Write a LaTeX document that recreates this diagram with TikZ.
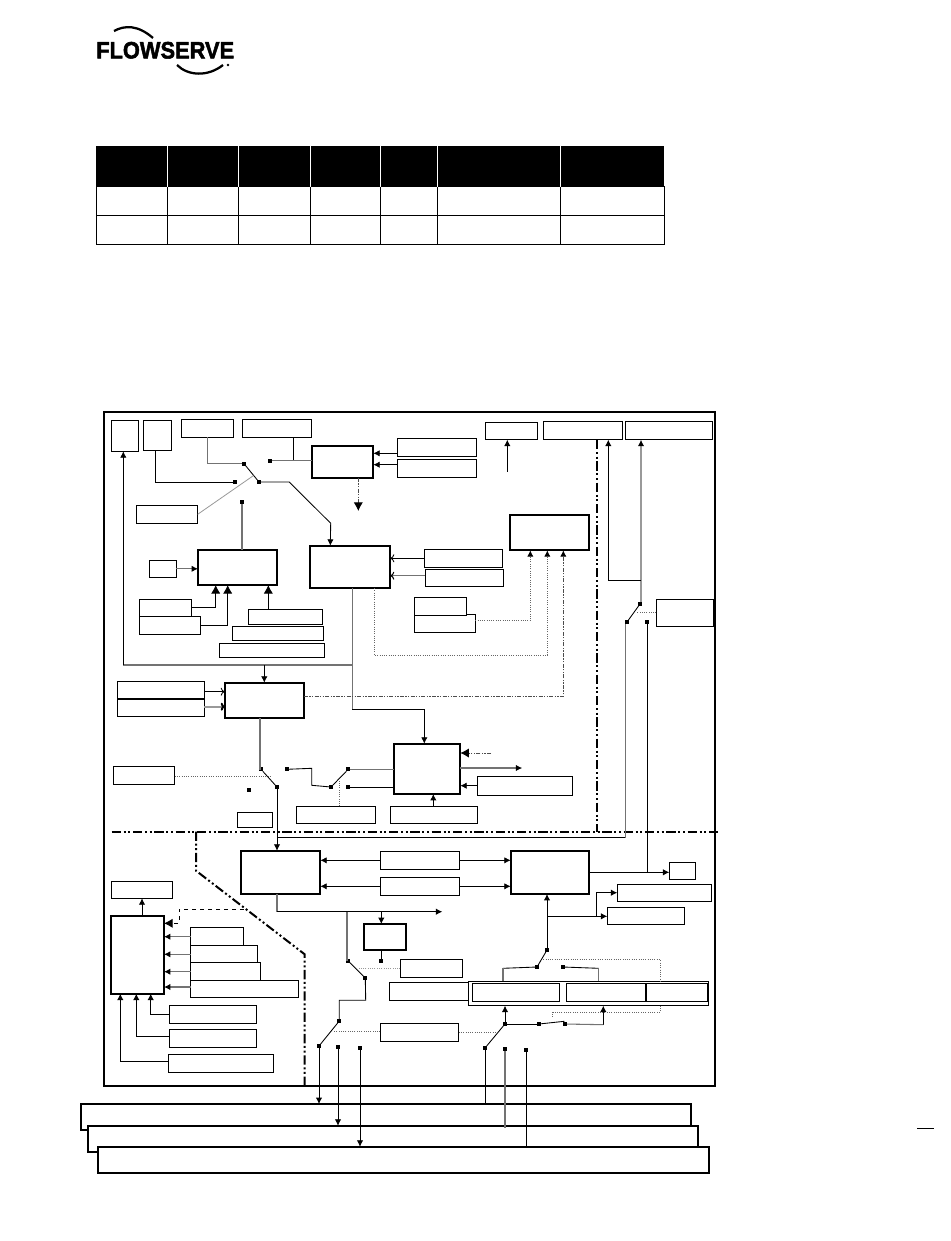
\documentclass[tikz,border=0pt]{standalone}
\usepackage{fontspec}
\usetikzlibrary{arrows.meta,calc}
\newfontfamily\logofont[BoldFeatures={FakeBold=2.2}]{Liberation Sans}
\definecolor{wgray}{gray}{0.45}
\definecolor{lgray}{gray}{0.6}
\tikzset{
  thinbox/.style={draw=black,line width=0.85pt,fill=white,inner sep=0pt,outer sep=0pt},
  medbox/.style={draw=black,line width=1.5pt,fill=white,inner sep=0pt,outer sep=0pt},
  thickbox/.style={draw=black,line width=1.7pt,fill=white,inner sep=0pt,outer sep=0pt},
  contact/.style={fill=black,inner sep=0pt,outer sep=0pt,minimum size=3pt,rectangle},
  wire/.style={draw=black,line width=0.65pt},
  gwire/.style={draw=wgray,line width=0.8pt},
  hwire/.style={draw=lgray,line width=1.5pt},
  dwire/.style={draw=black!60,line width=0.7pt,densely dotted},
  lwire/.style={draw=lgray,line width=0.6pt},
  ddwire/.style={draw=black!70,line width=0.7pt,dash pattern=on 3pt off 1pt on 1pt off 1pt on 1pt off 1pt},
  zone/.style={draw=black,line width=1.5pt,dash pattern=on 7pt off 2pt on 1.5pt off 2pt on 1.5pt off 2pt},
  smtip/.style={-{Latex[length=4.8pt,width=4.8pt,color=black]}},
  bigtip/.style={-{Latex[length=6.5pt,width=7pt,color=black]}},
  opentip/.style={-{To[length=3pt,width=6pt,color=black]}},
}
\newcommand{\bx}[6][thinbox]{\node[#1,anchor=north west,minimum width={(#5-#3)*0.75pt},minimum height={(#6-#4)*0.75pt}] (#2) at (#3,#4) {};}
\newcommand{\ct}[3]{\node[contact] (#1) at (#2,#3) {};}
\begin{document}
\begin{tikzpicture}[x=0.75pt,y=-0.75pt]
\useasboundingbox[fill=white] (0,0) rectangle (950,1241);
% logo
\node[inner sep=0pt,anchor=west,xscale=0.92] (logo) at (96,50.3) {\logofont\bfseries\fontsize{17.8}{18}\selectfont FLOWSERVE};
\draw[black,line width=1.7pt] (114,31) .. controls (125,25) and (138,25) .. (153,38);
\draw[black,line width=1.7pt] (177,65) .. controls (188,76) and (208,77) .. (223,65);
\fill[black] (228,65) circle (1pt);
% table
\fill[black] (96,146) rectangle (664,186.7);
\draw[black,line width=0.7pt] (96,186.7) rectangle (664,244);
\draw[black,line width=0.7pt] (96,215) -- (664,215);
\foreach \cx in {167,238.5,310,380.7,437.7,560}{
  \draw[white,line width=0.7pt] (\cx,146) -- (\cx,186.7);
  \draw[black,line width=0.7pt] (\cx,186.7) -- (\cx,244);
}
% frame
\bx[medbox]{frame}{104}{411.5}{715}{1086}
% upper boxes
\bx{b1}{111.3}{420.3}{138.3}{451.3}
\bx{b2}{143.3}{420.3}{171.3}{450.3}
\bx{b3}{181.3}{419.3}{233.3}{437.3}
\bx{b4}{242.3}{419.3}{311.3}{437.3}
\bx[thickbox]{H1}{311.7}{446}{373.3}{478}
\bx{b5}{397.3}{438.3}{476.3}{456.5}
\bx{b6}{397.3}{459.3}{476.3}{477.3}
\bx{b7}{136.3}{505.3}{197.7}{523.3}
\bx[thickbox]{H2}{198}{550}{277}{585}
\bx{b8}{149.3}{560.3}{176.3}{577.3}
\bx[thickbox]{H3}{310}{545.7}{390.3}{588}
\bx{b9}{139.3}{599.3}{191.7}{617}
\bx{b10}{139.3}{616.3}{200.3}{634.3}
\bx{b11}{248.3}{609.3}{322.3}{624.7}
\bx{b12}{232.3}{626.3}{323.3}{640.3}
\bx{b13}{219.3}{643.3}{324.3}{657.3}
\bx{c1}{485.3}{422.3}{537.7}{439.7}
\bx{c2}{543.3}{421.3}{622.3}{439.7}
\bx{c3}{625.3}{421.3}{712.7}{439.7}
\bx[thickbox]{H4}{509.7}{514.7}{589.3}{550.3}
\bx{c4}{424.3}{549.3}{502.3}{567.7}
\bx{c5}{425.3}{569.3}{503.3}{586.7}
\bx{c7}{414.3}{614.3}{475.3}{632.7}
\bx{c6}{414.3}{597.3}{466.3}{615.3}
\bx{c8}{656.3}{599.3}{713.7}{626.7}
\bx{d1}{117.3}{681.3}{204.3}{699}
\bx{d2}{117.3}{699}{204.3}{716.3}
\bx[thickbox]{H5}{224.7}{682.7}{304}{718.3}
\bx{d3}{113.3}{766.3}{174.7}{784.7}
\bx{d4}{237.3}{812.3}{272.7}{827.7}
\bx{d5}{296.3}{806.3}{375.7}{823.7}
\bx{d6}{390.3}{806.3}{477.7}{823.7}
\bx[thickbox]{H6}{393.7}{743.7}{460.3}{794}
\bx{e1}{477.3}{776.3}{572.7}{795.7}
% lower boxes
\bx[thickbox]{H7}{510.7}{851}{589.3}{894}
\bx{e2}{380.3}{851.3}{459.7}{869.3}
\bx{e3}{380.3}{877.3}{459.7}{895.3}
\bx{e4}{669.3}{862.3}{695.7}{879.3}
\bx{e5}{617.3}{884.3}{711.7}{901.3}
\bx{e6}{607.3}{907.3}{684.3}{924.3}
\bx[thickbox]{H8}{241}{850.7}{320.3}{893.7}
\bx{f1}{111.3}{881.3}{172.7}{898.3}
\bx[thickbox]{H9}{111}{916}{164}{993.7}
\bx{f2}{190.7}{927.3}{243.3}{945.3}
\bx{f3}{190.7}{945.3}{257.3}{962.7}
\bx{f4}{190.7}{962.7}{260.3}{980.3}
\bx{f5}{190.7}{980.3}{298.7}{997.3}
\bx{f6}{169.3}{1005.3}{256.7}{1023.3}
\bx{f7}{169.3}{1029.3}{256.7}{1047.3}
\bx{f8}{168.3}{1054.3}{273.3}{1072.3}
\bx[thickbox]{H10}{363.7}{924}{406}{950}
\bx{f9}{400.3}{959.3}{462.3}{977.7}
\bx{f10}{389.3}{982.3}{468.3}{1000.3}
\bx{g0}{468.3}{981.3}{708.7}{1005.7}
\bx{g1}{472.3}{983.3}{559.7}{1001.7}
\bx{g2}{566.3}{983.3}{646}{1001.7}
\bx{g3}{646.3}{983.3}{707.7}{1001.7}
\draw[black,line width=1.3pt] (g3.north west) -- (g3.south west) (g3.north east) -- (g3.south east);
\bx{g4}{380.3}{1023.3}{458.7}{1041.7}
\bx[medbox]{bus1}{81}{1104}{690.6}{1130}
\bx[medbox]{bus2}{87.8}{1125.7}{698}{1151.7}
\bx[medbox]{bus3}{97.8}{1146.7}{709}{1172.7}
% contacts
\ct{s1}{244}{463.7}\ct{s2}{235}{482}\ct{s3}{259}{482}\ct{s4}{270}{460.7}\ct{s5}{242}{502}
\ct{s6}{261}{769.3}\ct{s7}{249}{790}\ct{s8}{277}{787}\ct{s9}{287}{769.3}\ct{s10}{331}{787}
\ct{s11}{348.3}{769.3}\ct{s12}{348.3}{787}
\ct{s13}{627}{622}\ct{s14}{640}{604}\ct{s15}{647.3}{621.7}
\ct{s16}{348}{960.7}\ct{s17}{365.3}{978}\ct{s18}{339.3}{1021}\ct{s19}{319}{1046}
\ct{s20}{338}{1047}\ct{s21}{360}{1047.7}\ct{s22}{381.3}{961}
\ct{s23}{547}{950}\ct{s24}{537}{967}\ct{s25}{563}{967}
\ct{s26}{505}{1024}\ct{s27}{565}{1024}\ct{s28}{539}{1024}
\ct{s29}{485}{1048}\ct{s30}{505}{1049}\ct{s31}{526}{1050}
% free ends and bends
\coordinate (c1free) at (507.3,471.7);
\coordinate (h1free) at (358.3,511);
\coordinate (h6in) at (491,753);
\coordinate (h6out) at (522.3,768);
\coordinate (h8out) at (442.3,911.7);
\coordinate (bartop) at (123.3,665);
\coordinate (barend) at (352.3,665);
% zones
\coordinate (zl) at (111.7,831.5);
\coordinate (zr) at (720,831.5);
\coordinate (zv) at (597,440);
\coordinate (zvb) at (597,831.5);
\coordinate (zd1) at (196,831.5);
\coordinate (zd2) at (196,870.7);
\coordinate (zd3) at (304.7,954.3);
\coordinate (zd4) at (304.7,1085);
\draw[zone] (zl) -- (zr);
\draw[zone] (zv) -- (zvb);
\draw[zone] (zd1) -- (zd2) -- (zd3) -- (zd4);
% top group
\draw[gwire] (b3.south -| 207.3,0) |- (s1);
\draw[wire] (s1) -- (s3);
\draw[wire] (b4.south -| 293.3,0) -- (293.3,460.7);
\draw[gwire] (s4) -- (H1.west |- s4);
\draw[wire] (b2.south -| 155.3,0) |- (s2);
\draw[lwire] (b7.east) -- (253.3,475.7);
\draw[wire,smtip] (s3) -- (289.3,482) -- (330.7,523.3) -- (H3.north -| 330.3,0);
\draw[gwire] (s5) -- (H2.north -| s5);
\draw[ddwire,bigtip] (H1.south -| h1free) -- (h1free);
\draw[smtip,wire] (b5.west |- 0,453.3) -- (H1.east |- 0,453.3);
\draw[smtip,wire] (b6.west |- 0,464.7) -- (H1.east |- 0,464.7);
\draw[smtip,gwire] (b8.east) -- (H2.west |- b8.east);
\draw[bigtip,wire] (b9.east |- 0,607.7) -| (H2.south -| 215.7,0);
\draw[bigtip,wire] (b10.east |- 0,625.3) -| (H2.south -| 227.7,0);
\draw[bigtip,wire] (b11.north -| 268.3,0) -- (H2.south -| 268.3,0);
\draw[opentip,wire] (c4.west |- 0,558.3) -- (H3.east |- 0,558.3);
\draw[opentip,gwire] (c5.west |- 0,575.7) -- (H3.east |- 0,575.7);
% H3 out
\draw[gwire] (H3.south -| barend) -- (352.3,709.3);
\draw[smtip,wire] (352.3,709.3) -| (H6.north -| 424.3,0);
\draw[gwire] (barend) -- (bartop);
\draw[smtip,wire] (bartop) -- (b1.south -| bartop);
\draw[smtip,wire] (264.3,665) -- (H5.north -| 264.3,0);
% dotted feeds to H4
\draw[dwire,smtip] (H3.south -| 374,0) |- (547.3,655) -- (H4.south -| 547.3,0);
\draw[dwire,smtip] (c7.east |- 0,620.7) -| (H4.south -| 530.3,0);
\draw[ddwire,smtip] (H5.east |- 0,696.5) -| (H4.south -| 563.3,0);
% H5 group
\draw[opentip,wire] (d1.east |- 0,691.7) -- (H5.west |- 0,691.7);
\draw[opentip,hwire] (d2.east |- 0,706.7) -- (H5.west |- 0,706.7);
\draw[gwire] (H5.south -| 260,0) |- (s6);
\draw[wire] (s6) -- (s8);
\draw[smtip,wire] (s8) -- (H8.north -| s8);
\draw[dwire] (d3.east |- 0,776.4) -- (270,776.4);
\draw[wire] (s9) -- (311.7,768.3) -- (311.7,785.3) -- (s10);
\draw[wire] (s10) -- (s11);
\draw[gwire] (s11) -- (H6.west |- s11);
\draw[wire] (s12) -- (H6.west |- s12);
\draw[dwire] (d5.north -| 339.3,0) -- (339.3,780.7);
\draw[smtip,wire] (d6.north -| 433.3,0) -- (H6.south -| 433.3,0);
\draw[smtip,wire] (e1.west |- 0,785.7) -- (H6.east |- 0,785.7);
\draw[ddwire,bigtip] (h6in) -- (H6.east |- h6in);
\draw[smtip,gwire,line width=1pt] (H6.east |- h6out) -- (h6out);
% right riser
\draw[wire] (277,837.7) -- (625.7,837.7);
\draw[gwire] (625.7,837.7) -- (s13.south -| 625.7,0);
\draw[wire] (s13) -- (s14);
\draw[hwire,smtip] (s14.north -| 641,0) -- (c3.south -| 641,0);
\draw[wire,smtip] (641,580) -| (c2.south -| 608.3,0);
\draw[dwire] (c8.west |- 0,612) -- (637.3,612);
\draw[wire] (s15) -- (647.3,872.3);
\draw[smtip,wire] (H7.east |- 0,872.3) -- (e4.west |- 0,872.3);
\draw[smtip,wire] (c1free) -- (c1.south -| c1free);
% e2 e3
\draw[smtip,wire] (e2.west |- 0,860.3) -- (H8.east |- 0,860.3);
\draw[smtip,wire] (e2.east |- 0,860.3) -- (H7.west |- 0,860.3);
\draw[smtip,wire] (e3.west |- 0,886.3) -- (H8.east |- 0,886.3);
\draw[smtip,wire] (e3.east |- 0,886.3) -- (H7.west |- 0,886.3);
% H8 out
\draw[gwire] (H8.south -| 277,0) -- (277,911.7);
\draw[smtip,wire] (277,911.7) -- (h8out);
\draw[smtip,wire] (381.3,911.7) -- (H10.north -| 381.3,0);
\draw[gwire] (347,911.7) |- (s16);
\draw[wire] (s16) -- (s17);
\draw[wire] (s17) -- (365.7,1000.3) -- (339.3,1000.3) -- (s18);
\draw[wire] (s18) -- (s19);
\draw[smtip,wire] (s19) -- (bus1.north -| s19);
\draw[smtip,wire] (s20) -- (bus2.north -| s20);
\draw[smtip,wire] (s21) -- (bus3.north -| s21);
\draw[wire] (H10.south -| s22) -- (s22);
\draw[dwire,draw=lgray] (f9.west |- 0,968.3) -- (358.3,968.3);
\draw[dwire] (g4.west |- 0,1031.7) -- (333.3,1031.7);
\draw[dwire] (g4.east |- 0,1032.3) -- (495,1032.3);
% H9 group
\draw[smtip,wire] (H9.north -| f1) -- (f1.south);
\draw[dashed,black,line width=0.7pt,bigtip] (244,909.3) -- (179,909.3) -- (179,923.3) -- (H9.east |- 0,923.3);
\draw[smtip,gwire] (f2.west |- 0,936.7) -- (H9.east |- 0,936.7);
\draw[smtip,gwire] (f3.west |- 0,954.3) -- (H9.east |- 0,954.3);
\draw[smtip,gwire] (f4.west |- 0,971.7) -- (H9.east |- 0,971.7);
\draw[smtip,gwire] (f5.west |- 0,987) -- (H9.east |- 0,987);
\draw[smtip,wire] (f6.west |- 0,1014.7) -| (H9.south -| 150.7,0);
\draw[smtip,wire] (f7.west |- 0,1036.7) -| (H9.south -| 136.3,0);
\draw[smtip,wire] (f8.west |- 0,1061.3) -| (H9.south -| 120.3,0);
% right lower group
\draw[smtip,wire] (s23) -- (H7.south -| s23);
\draw[smtip,wire] (547,916.3) -- (e6.west |- 0,916.3);
\draw[smtip,wire] (596.3,916.3) -- (596.3,892.7) -- (e5.west |- 0,892.7);
\draw[wire] (s23) -- (s24);
\draw[wire] (s24) -- (503,968.3);
\draw[gwire] (503,968.3) -- (g0.north -| 503,0);
\draw[wire] (s25) -- (598.7,968.3);
\draw[gwire] (598.7,968.3) -- (g0.north -| 598.7,0);
\draw[dwire] (543.3,959.3) -| (g0.north -| 660,0);
\draw[smtip,wire] (s26) -- (g0.south -| s26);
\draw[smtip,wire] (603.3,1024.7) -- (g0.south -| 603.3,0);
\draw[gwire] (s27) -- (603.3,1024.7);
\draw[wire] (s26) -- (s28);
\draw[wire] (s28) -- (564.3,1021.3);
\draw[dwire] (g0.south -| 660,0) |- (552.7,1012.3) -- (552.7,1018.3);
\draw[wire] (s26) -- (s29);
\draw[wire] (s29) -- (bus1.north -| s29);
\draw[gwire] (s30) -- (505,1128);
\draw[wire] (s31) -- (526,1148);
% stray rule
\coordinate (rulea) at (917,1128);
\coordinate (ruleb) at (934,1128);
\draw[black,line width=0.7pt] (rulea) -- (ruleb);
\end{tikzpicture}
\end{document}
